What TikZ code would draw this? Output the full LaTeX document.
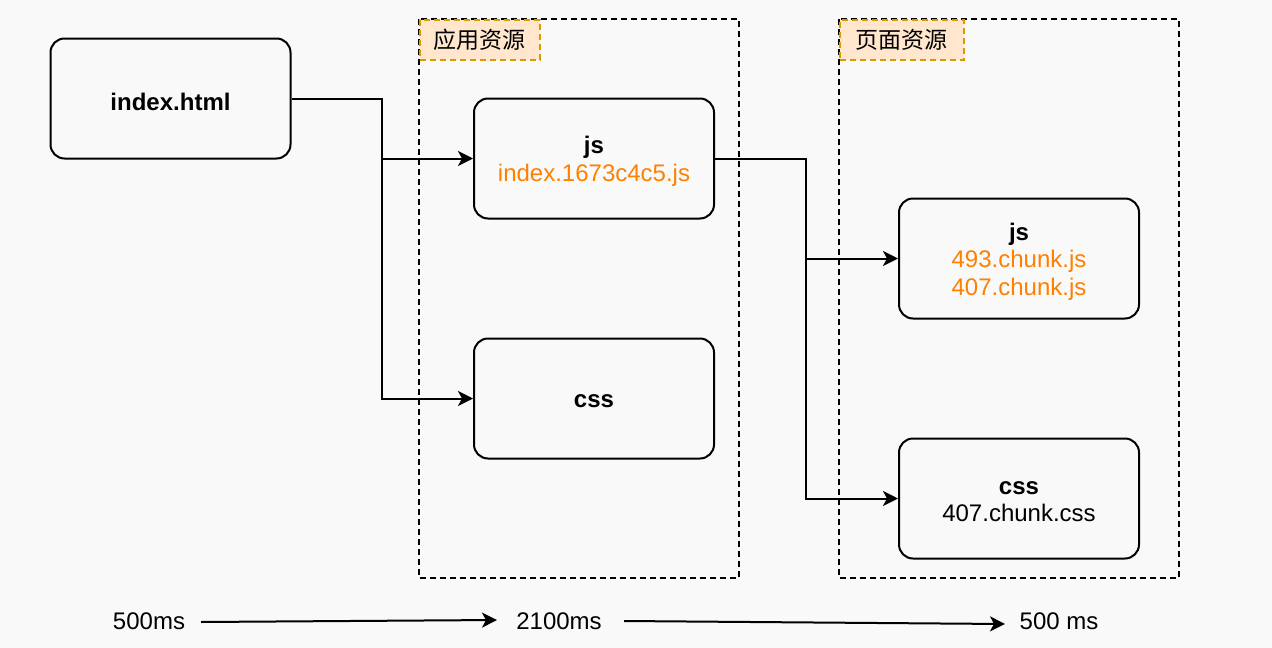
\documentclass[tikz,border=0pt]{standalone}
\usepackage{fontspec}
\setmainfont{Liberation Sans}
\newfontfamily\cjk{Noto Sans CJK SC}
\usetikzlibrary{arrows.meta}
\definecolor{bgc}{HTML}{F9F9F9}
\definecolor{orng}{HTML}{FF8000}
\definecolor{lblfill}{HTML}{FFE6CC}
\definecolor{lbldraw}{HTML}{D79B00}
\tikzset{
  box/.style={draw=black, line width=2pt, rounded corners=14pt, fill=bgc,
    minimum width=240pt, minimum height=120pt, inner sep=0pt},
  boxtxt/.style={align=center, inner sep=0pt, yshift=-3pt,
    font=\fontsize{24}{27.5}\selectfont},
  grp/.style={draw=black, line width=1.8pt, dash pattern=on 6pt off 4pt},
  lbl/.style={draw=lbldraw, fill=lblfill, line width=1.8pt, dash pattern=on 6pt off 4pt,
    minimum height=40pt, inner sep=0pt, font=\cjk\fontsize{23}{25}\selectfont},
  conn/.style={line width=2pt, -{Stealth[length=15pt,width=15pt,inset=4pt]}},
  tl/.style={font=\fontsize{24}{26}\selectfont, inner sep=0pt},
  tlarr/.style={line width=2pt, -{Stealth[length=15pt,width=15pt,inset=4pt]}},
}
\begin{document}
\begin{tikzpicture}[x=1pt,y=-1pt]
\useasboundingbox[fill=bgc] (0,0) rectangle (1272,648);
% groups
\draw[grp] (419,19) rectangle (739,578);
\draw[grp] (839,19) rectangle (1179,578);
\node[lbl, minimum width=120pt, anchor=north west] (l1) at (419,19) {应用资源};
\node[lbl, minimum width=124pt, anchor=north west] (l2) at (839,19) {页面资源};
% boxes
\node[box, label={[boxtxt]center:\textbf{index.html}}] (idx) at (170.5,98.5) {};
\node[box, label={[boxtxt]center:\textbf{js}\\\textcolor{orng}{index.1673c4c5.js}}] (ajs) at (594,158.5) {};
\node[box, label={[boxtxt]center:\textbf{css}}] (acss) at (594,398.5) {};
\node[box, label={[boxtxt]center:\textbf{js}\\\textcolor{orng}{493.chunk.js}\\\textcolor{orng}{407.chunk.js}}] (pjs) at (1019,258.5) {};
\node[box, label={[boxtxt]center:\textbf{css}\\407.chunk.css}] (pcss) at (1019,498.5) {};
% connectors
\draw[conn] (idx.east) -- (382,98.5) |- (ajs.west);
\draw[conn] (idx.east) -- (382,98.5) |- (acss.west);
\draw[conn] (ajs.east) -- (806,158.5) |- (pjs.west);
\draw[conn] (ajs.east) -- (806,158.5) |- (pcss.west);
% timeline
\node[tl] (t1) at (149,621) {500ms};
\node[tl] (t2) at (559,621) {2100ms};
\node[tl] (t3) at (1059,621) {500 ms};
\coordinate (a1s) at (201,622);
\coordinate (a1e) at (497,620);
\coordinate (a2s) at (624,621);
\coordinate (a2e) at (1005,624);
\draw[tlarr] (a1s) -- (a1e);
\draw[tlarr] (a2s) -- (a2e);
\end{tikzpicture}
\end{document}
